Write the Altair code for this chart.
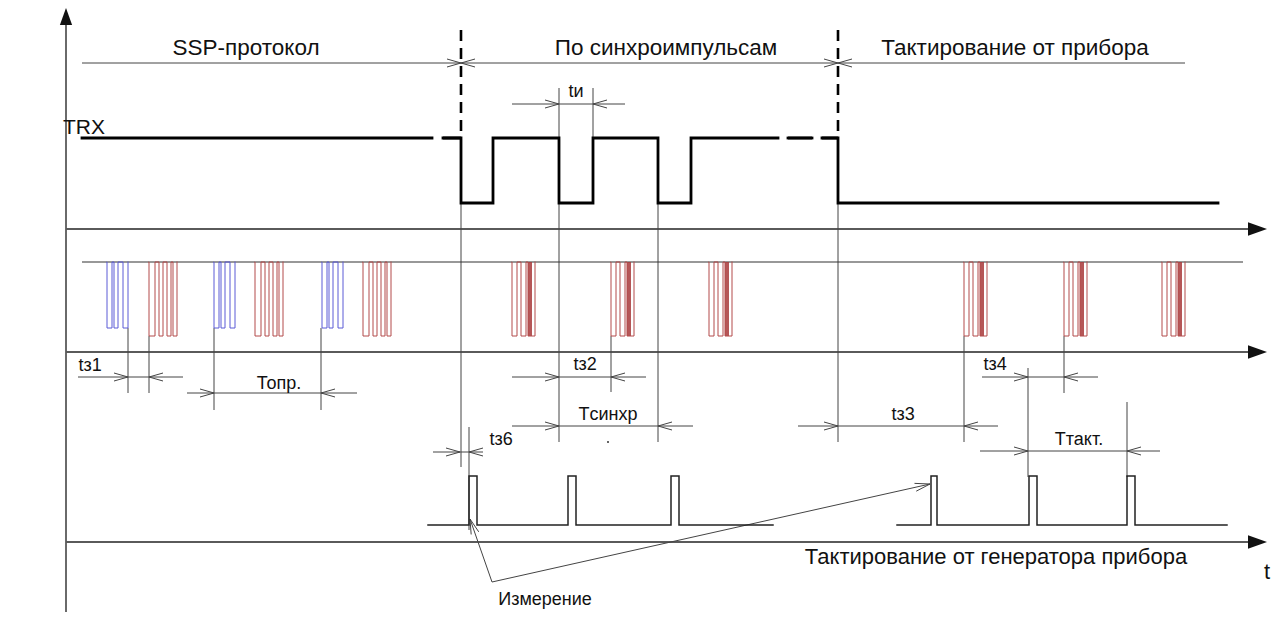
import math
import altair as alt
import pandas as pd

# ---------------------------------------------------------------- data
# section header
SECTION_TITLES = ["SSP-протокол", "По синхроимпульсам", "Тактирование от прибора"]
SECTION_TITLE_X = [246, 666, 1015]
SECTION_LIMITS = [82, 1185]
SECTION_DIVIDERS = [461, 838]

# TRX line: start/end time, transition times, gaps (dashed look)
TRX_START, TRX_END = 82, 1218
TRX_EDGES = [461, 493, 559, 593, 658, 691, 838]
TRX_GAPS = [(432, 443), (778, 788), (812, 822)]
TRX_DASH_PIECES = [(443, 461), (788, 812), (822, 838)]

# SSP data line: group start times and pulse patterns (low intervals)
ROW2_LIMITS = [82, 1243]
BLUE_STARTS = [107, 214, 322]
BLUE_PATTERN = [(0, 5), (7, 11), (16, 21)]
RED_SSP_STARTS = [149, 255, 363]
RED_SSP_PATTERN = [(0, 6), (10, 14), (18, 22), (24, 28)]
RED_SYNC_STARTS = [512, 611, 709, 964, 1064, 1162]
RED_SYNC_PATTERN = [(0, 5), (9, 14), (16, 23)]
RED_SYNC_DARK = (16, 20)

# device clock line
CLK_SEGMENTS = [(428, 773), (897, 1227)]
CLK_PULSES = [(469, 477), (568, 576), (671, 679), (931, 937), (1029, 1037), (1127, 1135)]

# dimension annotations
DIM_LABELS = ["tи", "tз1", "Топр.", "tз2", "Tсинхр", "tз3", "tз4", "Tтакт.", "tз6"]
DIM_LEVEL = [104, 377, 393, 377, 426, 426, 377, 451, 452]
DIM_FROM = [512, 78, 187, 512, 512, 798, 982, 980, 433]
DIM_TO = [625, 183, 357, 646, 693, 998, 1098, 1160, 483]
DIM_TIP_LEFT = [559, 128, 214, 559, 559, 838, 1028, 1028, 460]
DIM_TIP_RIGHT = [593, 149, 321, 611, 658, 964, 1064, 1127, 469]
DIM_LABEL_X = [576, 90, 279, 585, 608, 903, 995, 1079, 501]
DIM_LABEL_Y = [92, 366, 384, 365, 415, 415, 365, 440, 440]

# extension (witness) lines
EXT_X = [461, 559, 593, 658, 838, 128, 149, 214, 321, 611, 964, 1064, 1028, 1127, 469]
EXT_FROM = [203, 88, 88, 203, 203, 328, 336, 328, 328, 336, 336, 336, 368, 402, 427]
EXT_TO = [467, 442, 138, 442, 442, 393, 393, 410, 410, 392, 442, 393, 477, 477, 530]

# "Измерение" pointer
MEAS_ORIGIN = (492, 582)
MEAS_TARGETS = [(470, 519), (930, 484)]

# ---------------------------------------------------------------- layout
W, H = 1264, 604
X0, Y0 = 8, 8
XS = alt.Scale(domain=[X0, X0 + W], nice=False, zero=False)
YS = alt.Scale(domain=[Y0, Y0 + H], nice=False, zero=False, reverse=True)

Y_TITLE, Y_SECTION = 48, 63
Y_TRX_HI, Y_TRX_LO = 138, 203
Y_R2_HI, Y_BLUE_LO, Y_RED_LO = 262, 328, 336
Y_CLK_LO, Y_CLK_HI = 525, 476
AXES_Y = [229, 352, 542]
AXIS_X0, AXIS_X1, AXIS_TIP = 66, 1250, 1267
FONT = "Liberation Sans"


def enc(chart):
    return chart.encode(
        x=alt.X("x:Q", scale=XS, axis=None),
        y=alt.Y("y:Q", scale=YS, axis=None),
    )


def rules(rows, color, width, dash=None, cap="butt"):
    df = pd.DataFrame(rows, columns=["x", "y", "x2", "y2"])
    kw = dict(color=color, strokeWidth=width, strokeCap=cap)
    if dash:
        kw["strokeDash"] = dash
    return enc(alt.Chart(df).mark_rule(**kw)).encode(x2="x2:Q", y2="y2:Q")


def paths(pieces, color, width):
    rows = []
    for k, pts in enumerate(pieces):
        for i, (x, y) in enumerate(pts):
            rows.append(dict(piece=k, i=i, x=x, y=y))
    df = pd.DataFrame(rows)
    return enc(
        alt.Chart(df).mark_line(color=color, strokeWidth=width,
                                strokeJoin="miter", strokeCap="square")
    ).encode(detail="piece:N", order="i:Q")


def arrow_head(tip, origin, length=14, spread=4):
    dx, dy = tip[0] - origin[0], tip[1] - origin[1]
    n = math.hypot(dx, dy)
    ux, uy = dx / n, dy / n
    bx, by = tip[0] - ux * length, tip[1] - uy * length
    px, py = -uy, ux
    return [
        (bx + px * spread, by + py * spread, tip[0], tip[1]),
        (bx - px * spread, by - py * spread, tip[0], tip[1]),
    ]


# ---------------------------------------------------------------- TRX
verts = [(TRX_START, Y_TRX_HI)]
level = Y_TRX_HI
for e in TRX_EDGES:
    verts.append((e, level))
    level = Y_TRX_LO if level == Y_TRX_HI else Y_TRX_HI
    verts.append((e, level))
verts.append((TRX_END, level))

trx_pieces, cur = [], [verts[0]]
for p, v in zip(verts[:-1], verts[1:]):
    if p[1] == v[1]:
        for g1, g2 in TRX_GAPS:
            if p[0] < g1 and g2 <= v[0]:
                cur.append((g1, p[1]))
                trx_pieces.append(cur)
                cur = [(g2, p[1])]
    cur.append(v)
trx_pieces.append(cur)

# ---------------------------------------------------------------- row 2
def pulse_group(start, pattern, low):
    pts = [(start + pattern[0][0] - 0.01, Y_R2_HI)]
    for a, b in pattern:
        pts += [(start + a, Y_R2_HI), (start + a, low), (start + b, low), (start + b, Y_R2_HI)]
    return pts


blue_groups = [pulse_group(s, BLUE_PATTERN, Y_BLUE_LO) for s in BLUE_STARTS]
red_groups = [pulse_group(s, RED_SSP_PATTERN, Y_RED_LO) for s in RED_SSP_STARTS]
red_groups += [pulse_group(s, RED_SYNC_PATTERN, Y_RED_LO) for s in RED_SYNC_STARTS]
dark_rects = pd.DataFrame(
    [dict(x=s + RED_SYNC_DARK[0], x2=s + RED_SYNC_DARK[1], y=Y_R2_HI, y2=Y_RED_LO)
     for s in RED_SYNC_STARTS]
)

# ---------------------------------------------------------------- clock
clk_pieces = []
for a, b in CLK_SEGMENTS:
    pts = [(a, Y_CLK_LO)]
    for p1, p2 in CLK_PULSES:
        if a < p1 and p2 < b:
            pts += [(p1, Y_CLK_LO), (p1, Y_CLK_HI), (p2, Y_CLK_HI), (p2, Y_CLK_LO)]
    pts.append((b, Y_CLK_LO))
    clk_pieces.append(pts)

# ---------------------------------------------------------------- thin lines
axis_rows = [(AXIS_X0, y, AXIS_X1, y) for y in AXES_Y]
axis_rows.append((AXIS_X0, 620, AXIS_X0, 20))

dim_rows = [(SECTION_LIMITS[0], Y_SECTION, SECTION_LIMITS[1], Y_SECTION)]
for d in SECTION_DIVIDERS:
    dim_rows += arrow_head((d, Y_SECTION), (d - 20, Y_SECTION))
    dim_rows += arrow_head((d, Y_SECTION), (d + 20, Y_SECTION))
for i in range(len(DIM_LABELS)):
    y = DIM_LEVEL[i]
    dim_rows.append((DIM_FROM[i], y, DIM_TO[i], y))
    dim_rows += arrow_head((DIM_TIP_LEFT[i], y), (DIM_FROM[i], y))
    dim_rows += arrow_head((DIM_TIP_RIGHT[i], y), (DIM_TO[i], y))
for x, a, b in zip(EXT_X, EXT_FROM, EXT_TO):
    dim_rows.append((x, a, x, b))
for t in MEAS_TARGETS:
    dim_rows.append((MEAS_ORIGIN[0], MEAS_ORIGIN[1], t[0], t[1]))
    dim_rows += arrow_head(t, MEAS_ORIGIN, length=15, spread=4)

divider_rows = [(d, 30, d, Y_TRX_HI) for d in SECTION_DIVIDERS]
trx_dash_rows = [(a, Y_TRX_HI, b, Y_TRX_HI) for a, b in TRX_DASH_PIECES]

# ---------------------------------------------------------------- arrow tips (filled)
right_tips = pd.DataFrame(dict(x=[AXIS_TIP - 9.5] * len(AXES_Y), y=AXES_Y))
up_tip = pd.DataFrame(dict(x=[AXIS_X0], y=[8 + 8.5]))

right_layer = enc(alt.Chart(right_tips).mark_point(
    shape="M-1,-0.72L1,0L-1,0.72Z", size=361, filled=True, color="#111", opacity=1))
up_layer = enc(alt.Chart(up_tip).mark_point(
    shape="M-0.72,1L0,-1L0.72,1Z", size=289, filled=True, color="#111", opacity=1))

# ---------------------------------------------------------------- texts
texts = []
for t, x in zip(SECTION_TITLES, SECTION_TITLE_X):
    texts.append(dict(t=t, x=x, y=Y_TITLE, fs=22.5))
for t, x, y in zip(DIM_LABELS, DIM_LABEL_X, DIM_LABEL_Y):
    texts.append(dict(t=t, x=x, y=y, fs=18))
texts += [
    dict(t="TRX", x=84, y=128, fs=21),
    dict(t="Измерение", x=545, y=600, fs=18),
    dict(t="Тактирование от генератора прибора", x=996, y=557, fs=22),
    dict(t="t", x=1267, y=572, fs=22),
]
text_layer = enc(alt.Chart(pd.DataFrame(texts)).mark_text(
    font=FONT, color="#111", align="center", baseline="middle"
)).encode(text="t:N", size=alt.Size("fs:Q", scale=None, legend=None))

dot_layer = enc(alt.Chart(pd.DataFrame(dict(x=[608], y=[442]))).mark_point(
    filled=True, size=4, color="#333", opacity=1))

# ---------------------------------------------------------------- assemble
layers = [
    rules(axis_rows, "#5a5a5a", 1.8),
    rules(dim_rows, "#444", 1.0),
    rules([(ROW2_LIMITS[0], Y_R2_HI, ROW2_LIMITS[1], Y_R2_HI)], "#333", 1.2),
    enc(alt.Chart(dark_rects).mark_rect(color="#a8383a", opacity=0.85)).encode(
        x2="x2:Q", y2="y2:Q"),
    paths(blue_groups, "#5b5bd6", 1.0),
    paths(red_groups, "#b34a4a", 1.0),
    paths(clk_pieces, "#222", 1.5),
    paths(trx_pieces, "#000", 2.8),
    rules(trx_dash_rows, "#000", 2.8),
    rules(divider_rows, "#000", 2.6, dash=[11, 7]),
    right_layer,
    up_layer,
    dot_layer,
    text_layer,
]

chart = alt.layer(*layers).properties(
    width=W, height=H, padding=0, autosize=alt.AutoSizeParams(type="none")
).configure_view(stroke=None)

chart.save("out.html", embed_options={"renderer": "svg", "actions": False})
